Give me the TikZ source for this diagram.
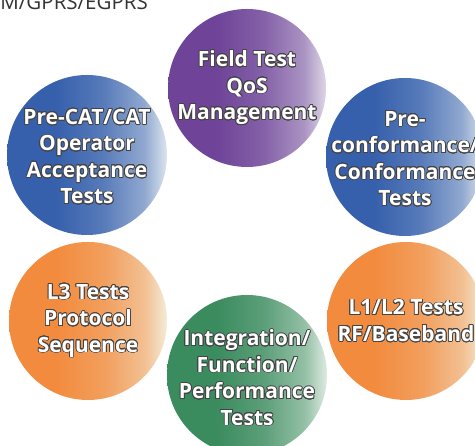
\documentclass[tikz,border=0pt]{standalone}
\usepackage{fontspec}
\usepackage{contour}
\setmainfont{Open Sans}
\newfontfamily\lblfont{Open Sans}
\contourlength{0.75pt}
\contournumber{24}
\definecolor{outl}{HTML}{444444}
\definecolor{headgray}{HTML}{333333}
% circle colours: solid left side, pale right rim
\definecolor{purpleA}{HTML}{6E4398}
\definecolor{purpleB}{HTML}{DCD6E6}
\definecolor{blueA}{HTML}{3660AC}
\definecolor{blueB}{HTML}{DCE5EE}
\definecolor{orangeA}{HTML}{F28B3E}
\definecolor{orangeB}{HTML}{F3ECD8}
\definecolor{greenA}{HTML}{3A8B5E}
\definecolor{greenB}{HTML}{DDEBE1}
% horizontal fade: the bubble spans 25bp..75bp of the shading
\newcommand{\fadeshading}[3]{%
  \pgfdeclarehorizontalshading{#1}{100bp}{%
    color(0bp)=(#2); color(25bp)=(#2); color(40bp)=(#2);
    color(55bp)=(#2!80!#3); color(68bp)=(#2!45!#3); color(75bp)=(#3); color(100bp)=(#3)}}
\fadeshading{purplefade}{purpleA}{purpleB}
\fadeshading{bluefade}{blueA}{blueB}
\fadeshading{orangefade}{orangeA}{orangeB}
\fadeshading{greenfade}{greenA}{greenB}
\newcommand{\ol}[1]{\contour{outl}{#1}}
\tikzset{
  bubble/.style={circle, inner sep=0pt, minimum size=#1*2pt},
  bubble/.default=79,
  bubbletext/.style={inner sep=0pt, text=white, align=center,
    font=\lblfont\bfseries\fontsize{21}{26.5}\selectfont}
}
\begin{document}
\begin{tikzpicture}[x=1pt,y=1pt]
\useasboundingbox (0,0) rectangle (475,446);
\clip (0,0) rectangle (475,446);
\fill[white] (0,0) rectangle (475,446);
% heading, cut off by the page edge
\node[anchor=base east, inner sep=0pt, text=headgray, font=\fontsize{20.5}{24}\selectfont]
  (head) at (148,436.5) {GSM/GPRS/EGPRS};
% the six test areas
\node[bubble=79, shading=purplefade] (field) at (247,358) {};
\node[bubble=80, shading=bluefade] (cat) at (87,291) {};
\node[bubble=79, shading=bluefade] (conf) at (405,289) {};
\node[bubble=79, shading=orangefade] (l3) at (88,125) {};
\node[bubble=80, shading=greenfade] (integ) at (247,71) {};
\node[bubble=79, shading=orangefade] (l12) at (406,125) {};
% their captions
\node[bubbletext] (fieldtxt) at (field) {\ol{Field Test}\\\ol{QoS}\\\ol{Management}};
\node[bubbletext] (cattxt) at ([yshift=-2pt]cat.center)
  {\ol{Pre-CAT/CAT}\\\ol{Operator}\\\ol{Acceptance}\\\ol{Tests}};
\node[bubbletext] (conftxt) at ([yshift=-2pt]conf.center)
  {\ol{Pre-}\\\ol{conformance/}\\\ol{Conformance}\\\ol{Tests}};
\node[bubbletext] (l3txt) at (l3) {\ol{L3 Tests}\\\ol{Protocol}\\\ol{Sequence}};
\node[bubbletext] (integtxt) at ([yshift=-3pt]integ.center)
  {\ol{Integration/}\\\ol{Function/}\\\ol{Performance}\\\ol{Tests}};
\node[bubbletext] (l12txt) at (l12) {\ol{L1/L2 Tests}\\\ol{RF/Baseband}};
\end{tikzpicture}
\end{document}
